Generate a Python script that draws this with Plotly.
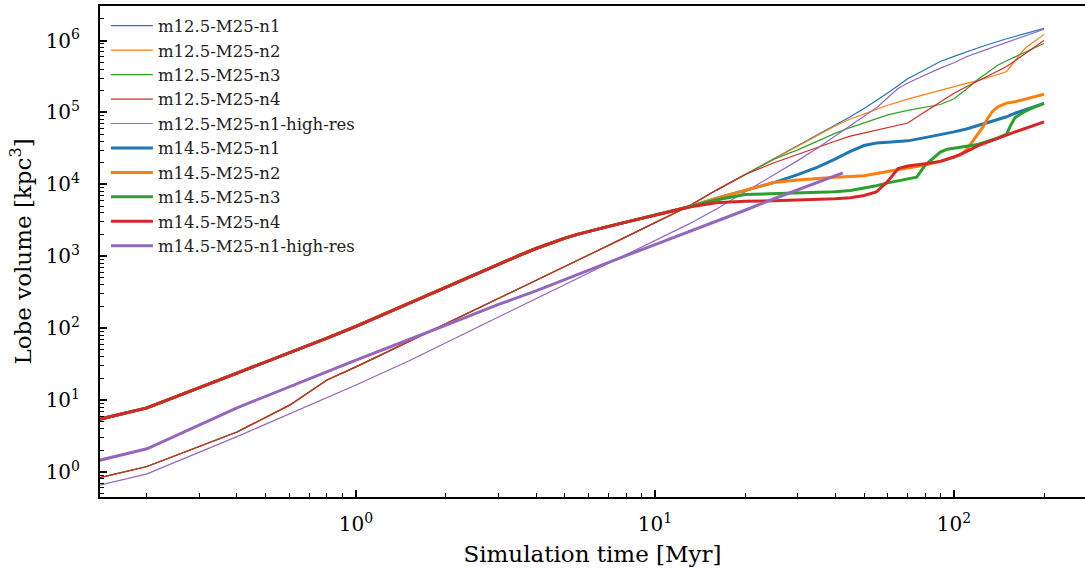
import plotly.graph_objects as go

# ---------------- data ----------------
# shared early part of the four m12.5 runs (curves overlap there)
t_thin_early = [0.1, 0.2, 0.4, 0.6, 0.8, 1.0, 1.5, 2, 3, 4, 5, 6, 8, 10, 13, 16, 20]
v_thin_early = [0.6, 1.19, 3.6, 8.5, 19, 29, 65, 115, 258, 460, 720, 1040, 1860, 2900, 5000, 8260, 13700]

t_m12_n1_late = [25, 30, 35, 40, 45, 50, 60, 70, 80, 90, 100, 110, 120, 130, 140, 150, 160, 170, 180, 190, 200]
v_m12_n1_late = [22900, 34600, 49200, 66700, 87100, 114000, 186000, 295000, 398000, 513000, 603000,
                 700000, 789000, 881000, 977000, 1060000, 1140000, 1220000, 1300000, 1380000, 1480000]

t_m12_n2_late = [25, 30, 35, 40, 45, 50, 60, 70, 80, 90, 100, 110, 120, 130, 140, 150, 160, 170, 175, 180, 190, 200]
v_m12_n2_late = [22900, 34600, 49000, 65000, 81000, 96000, 126000, 153000, 179000, 205000, 230000,
                 254000, 278000, 305000, 338000, 372000, 525000, 724000, 813000, 891000, 1050000, 1220000]

t_m12_n3_late = [25, 30, 35, 40, 45, 50, 60, 70, 80, 90, 100, 110, 120, 130, 140, 150, 160, 170, 180, 190, 200]
v_m12_n3_late = [22400, 30200, 39800, 51300, 61700, 71800, 92500, 107000, 119000, 129000, 155000,
                 210000, 288000, 366000, 454000, 525000, 597000, 673000, 748000, 828000, 912000]

t_m12_n4_late = [25, 30, 35, 40, 45, 50, 60, 70, 80, 90, 100, 110, 120, 130, 140, 150, 160, 170, 180, 190, 200]
v_m12_n4_late = [20000, 26300, 33100, 39800, 46800, 51600, 61500, 71400, 102000, 141000, 185000,
                 228000, 272000, 320000, 377000, 437000, 525000, 622000, 731000, 851000, 1000000]

t_m12_hr = [0.1, 0.2, 0.4, 0.6, 0.8, 1.0, 1.5, 2, 3, 4, 5, 6, 8, 10, 13, 16, 20, 25, 30, 35, 40, 45, 50, 55,
            60, 65, 70, 80, 90, 100, 110, 120, 130, 140, 150, 160, 170, 180, 190, 200]
v_m12_hr = [0.47, 0.94, 3.1, 6.4, 10.8, 16.2, 35, 63, 144, 257, 405, 590, 1050, 1660, 2820, 4520, 7800,
            13500, 21400, 32100, 46800, 66000, 89100, 116000, 160000, 216000, 257000, 331000, 414000,
            492000, 597000, 679000, 764000, 851000, 944000, 1040000, 1130000, 1230000, 1330000, 1440000]

# shared early part of the four m14.5 runs
t_thick_early = [0.1, 0.2, 0.4, 0.6, 0.8, 1.0, 1.5, 2, 2.5, 3, 3.5, 4, 4.5, 5, 5.5, 6, 7, 8, 9, 10, 11.5, 13]
v_thick_early = [3.9, 7.8, 23.7, 45.3, 72.8, 106, 222, 373, 557, 774, 1021, 1283, 1540, 1786, 2015, 2230,
                 2610, 2985, 3360, 3730, 4300, 4850]

t_m14_n1_late = [16, 20, 25, 30, 35, 40, 45, 50, 55, 60, 70, 80, 90, 100, 110, 120, 130, 140, 150, 160, 170, 180, 190, 200]
v_m14_n1_late = [6400, 8320, 10600, 13700, 17400, 22400, 28800, 34700, 37600, 38500, 40300, 44700, 49000,
                 53700, 58900, 66100, 72400, 79400, 87100, 97700, 106000, 115000, 124000, 134000]

t_m14_n2_late = [16, 20, 25, 30, 35, 40, 45, 50, 60, 70, 80, 90, 100, 105, 110, 115, 120, 125, 130, 135, 140,
                 150, 160, 170, 180, 190, 200]
v_m14_n2_late = [6400, 8320, 10600, 11500, 12200, 12600, 12900, 13200, 15100, 16800, 18600, 20900, 24300,
                 25700, 30200, 38900, 48400, 63100, 85100, 105000, 120000, 135000, 141000, 150000, 160000,
                 170000, 179000]

t_m14_n3_late = [16, 20, 25, 30, 35, 40, 45, 50, 55, 60, 65, 70, 75, 80, 85, 90, 95, 100, 110, 120, 130, 140,
                 150, 155, 160, 170, 180, 190, 200]
v_m14_n3_late = [6070, 7240, 7450, 7520, 7670, 7910, 8220, 8810, 9550, 10500, 11200, 11900, 12600, 18400,
                 22900, 28200, 30900, 32000, 34300, 35900, 39800, 44200, 50100, 67600, 85100, 100000,
                 112000, 123000, 134000]

t_m14_n4_late = [16, 20, 25, 30, 35, 40, 45, 50, 55, 60, 65, 70, 80, 90, 100, 110, 120, 130, 140, 150, 160,
                 170, 180, 190, 200]
v_m14_n4_late = [5560, 5820, 5920, 6030, 6170, 6310, 6530, 7000, 7850, 11000, 16600, 18000, 19300, 20900,
                 24000, 28500, 34300, 39100, 43900, 49000, 53700, 58500, 63500, 68700, 74100]

t_m14_hr = [0.1, 0.2, 0.4, 0.6, 0.8, 1.0, 1.5, 2, 3, 4, 5, 6, 8, 10, 13, 16, 20, 25, 30, 35, 40, 42.5]
v_m14_hr = [1.05, 2.1, 7.8, 15.4, 24.5, 36, 69, 110, 214, 331, 479, 646, 1020, 1450, 2190, 3090, 4370,
            6310, 8410, 10700, 13200, 14500]

names = ["m12.5-M25-n1", "m12.5-M25-n2", "m12.5-M25-n3", "m12.5-M25-n4", "m12.5-M25-n1-high-res",
         "m14.5-M25-n1", "m14.5-M25-n2", "m14.5-M25-n3", "m14.5-M25-n4", "m14.5-M25-n1-high-res"]

x_tick_vals = [1, 10, 100]
x_tick_text = ["10<sup>0</sup>", "10<sup>1</sup>", "10<sup>2</sup>"]
y_tick_vals = [1, 10, 100, 1000, 10000, 100000, 1000000]
y_tick_text = ["10<sup>%d</sup>" % i for i in range(7)]

# ---------------- figure ----------------
colors = ["#1f77b4", "#ff7f0e", "#2ca02c", "#d62728", "#9467bd"]

series = [
    (t_thin_early + t_m12_n1_late, v_thin_early + v_m12_n1_late),
    (t_thin_early + t_m12_n2_late, v_thin_early + v_m12_n2_late),
    (t_thin_early + t_m12_n3_late, v_thin_early + v_m12_n3_late),
    (t_thin_early + t_m12_n4_late, v_thin_early + v_m12_n4_late),
    (t_m12_hr, v_m12_hr),
    (t_thick_early + t_m14_n1_late, v_thick_early + v_m14_n1_late),
    (t_thick_early + t_m14_n2_late, v_thick_early + v_m14_n2_late),
    (t_thick_early + t_m14_n3_late, v_thick_early + v_m14_n3_late),
    (t_thick_early + t_m14_n4_late, v_thick_early + v_m14_n4_late),
    (t_m14_hr, v_m14_hr),
]

fig = go.Figure()
for i, ((t, v), name) in enumerate(zip(series, names)):
    fig.add_trace(go.Scatter(
        x=t, y=v, mode="lines", name=name,
        line=dict(color=colors[i % 5], width=1.2 if i < 5 else 3.0),
    ))

minor_x = [m * 10 ** e for e in range(-1, 3) for m in range(2, 10)]
minor_y = [m * 10 ** e for e in range(-1, 7) for m in range(2, 10)]

fig.update_layout(
    width=1085, height=575,
    margin=dict(l=100, r=0, t=6, b=78),
    plot_bgcolor="white", paper_bgcolor="white",
    font=dict(family="DejaVu Serif", color="black"),
    legend=dict(x=0.006, y=0.995, xanchor="left", yanchor="top",
                bgcolor="rgba(0,0,0,0)", font=dict(size=16.5, color="#222"),
                itemwidth=42, tracegroupgap=0),
)
fig.update_xaxes(
    type="log", range=[-0.856, 2.438],
    showline=True, linecolor="black", linewidth=2, mirror=True,
    ticks="inside", ticklen=7, tickwidth=1.5, tickcolor="black",
    tickvals=x_tick_vals, ticktext=x_tick_text, tickfont=dict(size=20),
    ticklabelstandoff=8,
    showgrid=False, zeroline=False,
    minor=dict(ticks="inside", ticklen=4, tickwidth=1, tickcolor="black",
               tickvals=minor_x, showgrid=False),
    title=dict(text="Simulation time [Myr]", font=dict(size=23), standoff=11),
)
fig.update_yaxes(
    type="log", range=[-0.348, 6.481],
    showline=True, linecolor="black", linewidth=2, mirror=False,
    ticks="inside", ticklen=7, tickwidth=1.5, tickcolor="black",
    tickvals=y_tick_vals, ticktext=y_tick_text, tickfont=dict(size=20),
    ticklabelstandoff=14,
    showgrid=False, zeroline=False,
    minor=dict(ticks="inside", ticklen=4, tickwidth=1, tickcolor="black",
               tickvals=minor_y, showgrid=False),
    title=dict(text="Lobe volume [kpc<sup>3</sup>]", font=dict(size=23), standoff=8),
)

fig.write_html("out.html")
